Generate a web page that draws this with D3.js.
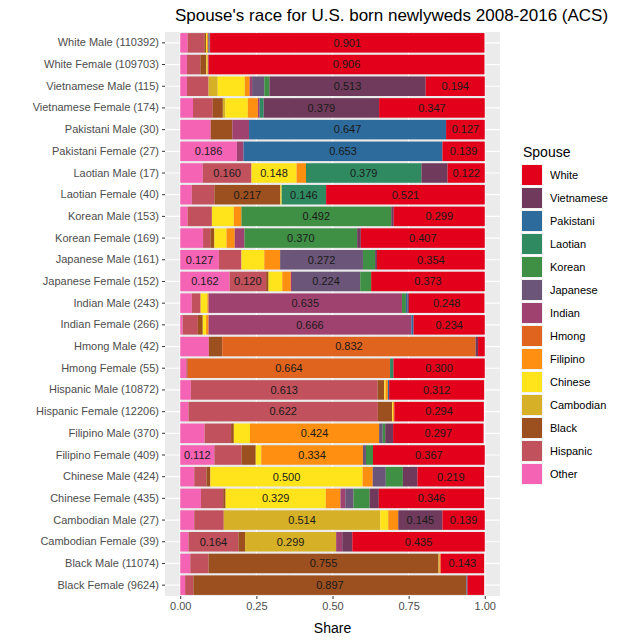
<!DOCTYPE html><html><head><meta charset="utf-8"><script src="https://cdn.jsdelivr.net/npm/d3@7"></script>
<style>body{margin:0;background:#fff}text{font-family:"Liberation Sans",Arial,sans-serif}</style></head><body><svg id="c" width="626" height="640"></svg><script>
const categories=["White Male (110392)","White Female (109703)","Vietnamese Male (115)","Vietnamese Female (174)","Pakistani Male (30)","Pakistani Female (27)","Laotian Male (17)","Laotian Female (40)","Korean Male (153)","Korean Female (169)","Japanese Male (161)","Japanese Female (152)","Indian Male (243)","Indian Female (266)","Hmong Male (42)","Hmong Female (55)","Hispanic Male (10872)","Hispanic Female (12206)","Filipino Male (370)","Filipino Female (409)","Chinese Male (424)","Chinese Female (435)","Cambodian Male (27)","Cambodian Female (39)","Black Male (11074)","Black Female (9624)"];
const spouses=["Other","Hispanic","Black","Cambodian","Chinese","Filipino","Hmong","Indian","Japanese","Korean","Laotian","Pakistani","Vietnamese","White"];
const colors=["#f564b4","#c1515c","#9c4f1f","#d6b026","#ffe41c","#ff8f10","#e0631e","#a04270","#6b5578","#3f8f45","#2f8a62","#2d6b9c","#6f3a5b","#e3001b"];
// rows: values in spouses order
const shares=[
[.024,.055,.006,0,.003,.003,0,.002,.003,.001,0,0,.001,.901],
[.022,.044,.020,0,.003,.002,0,0,.002,0,0,0,0,.906],
[.022,.071,0,.030,.089,.016,0,.008,.040,.017,0,0,.513,.194],
[.042,.065,.033,.008,.074,.033,0,.006,0,0,.013,0,.379,.347],
[.100,0,.071,0,0,0,0,.055,0,0,0,.647,0,.127],
[.186,0,0,0,0,0,0,.022,0,0,0,.653,0,.139],
[.074,.160,0,0,.148,.031,0,0,0,0,.379,0,.086,.122],
[.038,.074,.217,0,.004,0,0,0,0,0,.146,0,0,.521],
[.024,.080,0,0,.072,.025,0,0,0,.492,0,0,.008,.299],
[.075,.024,.013,0,.040,.027,0,.032,0,.370,0,0,.012,.407],
[.127,.074,0,0,.075,.052,0,0,.272,.040,0,0,.006,.354],
[.162,.120,.008,0,.045,.028,0,.004,.224,.036,0,0,0,.373],
[.038,.029,0,0,.022,.004,0,.635,0,.013,0,.005,.005,.248],
[.008,.050,.016,0,.011,.008,0,.666,0,0,0,.007,0,.234],
[.094,0,.044,0,0,0,.832,0,0,0,0,0,.008,.022],
[.020,.005,0,0,0,0,.664,0,0,0,.011,0,0,.300],
[.035,.613,.022,0,.004,.008,0,0,0,0,0,.004,0,.312],
[.027,.622,.047,0,.003,.004,0,0,0,0,0,0,0,.294],
[.080,.087,.009,0,.053,.424,0,0,.012,.008,0,0,.026,.297],
[.112,.089,.047,0,.018,.334,0,0,.010,.023,0,0,0,.367],
[.046,.040,.013,0,.500,.033,0,0,.043,.056,0,0,.048,.219],
[.068,.073,.008,0,.329,.048,0,.016,.027,.053,0,0,.030,.346],
[.046,.097,0,.514,.026,.033,0,0,0,0,0,0,.145,.139],
[.027,.164,.022,.299,0,0,0,.020,0,0,0,0,.033,.435],
[.033,.060,.755,.003,0,.004,0,0,0,0,0,0,0,.143],
[.016,.027,.897,0,0,0,0,0,0,0,0,.003,0,.055]];
const xTicks=[0,0.25,0.5,0.75,1];
const svg=d3.select("#c");
const L=165,R=500,T=32,B=596;
const x=d3.scaleLinear().domain([-0.05,1.05]).range([L,R]);
const y=d3.scaleBand().domain(categories).range([T,B]).paddingInner(0.1).paddingOuter(0.05);
svg.append("rect").attr("x",L).attr("y",T).attr("width",R-L).attr("height",B-T).attr("fill","#ebebeb");
[0.125,0.375,0.625,0.875].forEach(t=>svg.append("line").attr("x1",x(t)).attr("x2",x(t)).attr("y1",T).attr("y2",B).attr("stroke","#f5f5f5").attr("stroke-width",0.6));
xTicks.forEach(t=>svg.append("line").attr("x1",x(t)).attr("x2",x(t)).attr("y1",T).attr("y2",B).attr("stroke","#fff").attr("stroke-width",1.2));
categories.forEach(c=>svg.append("line").attr("x1",L).attr("x2",R).attr("y1",y(c)+y.bandwidth()/2).attr("y2",y(c)+y.bandwidth()/2).attr("stroke","#fff").attr("stroke-width",1.2));
const data=categories.map((c,i)=>{const o={cat:c};spouses.forEach((s,j)=>o[s]=shares[i][j]);return o;});
const stack=d3.stack().keys(spouses)(data);
const g=svg.append("g");
stack.forEach((layer,k)=>{
  layer.forEach(d=>{
    const w=x(d[1])-x(d[0]); if(w<=0)return;
    g.append("rect").attr("x",x(d[0])).attr("y",y(d.data.cat)).attr("width",w).attr("height",y.bandwidth()).attr("fill",colors[k]);
  });
});
stack.forEach((layer,k)=>{
  layer.forEach(d=>{
    const v=d[1]-d[0]; if(v<=0.1)return;
    g.append("text").attr("x",x((d[0]+d[1])/2)).attr("y",y(d.data.cat)+y.bandwidth()/2).attr("dy","0.35em").attr("text-anchor","middle").attr("font-size",11).attr("fill","#1a1a1a").text(v.toFixed(3));
  });
});
const ya=svg.append("g").attr("transform",`translate(${L},0)`).call(d3.axisLeft(y).tickSize(3).tickSizeOuter(0));
ya.select(".domain").remove();ya.selectAll("line").attr("stroke","#333");
ya.selectAll("text").attr("font-size",11).attr("fill","#4d4d4d").attr("font-family","Liberation Sans, Arial, sans-serif");
const xa=svg.append("g").attr("transform",`translate(0,${B})`).call(d3.axisBottom(x).tickValues(xTicks).tickFormat(d3.format(".2f")).tickSize(3).tickSizeOuter(0));
xa.select(".domain").remove();xa.selectAll("line").attr("stroke","#333");
xa.selectAll("text").attr("font-size",11).attr("fill","#4d4d4d").attr("font-family","Liberation Sans, Arial, sans-serif");
svg.append("text").attr("x",(L+R)/2).attr("y",633).attr("text-anchor","middle").attr("font-size",14).text("Share");
svg.append("text").attr("x",(L+R)/2+59).attr("y",21).attr("text-anchor","middle").attr("font-size",17).text("Spouse's race for U.S. born newlyweds 2008-2016 (ACS)");
const lg=svg.append("g").attr("transform","translate(521,142)");
lg.append("text").attr("x",2).attr("y",15).attr("font-size",14).text("Spouse");
spouses.slice().reverse().forEach((s,i)=>{
  const k=spouses.length-1-i;
  lg.append("rect").attr("x",0).attr("y",22+i*23).attr("width",22).attr("height",22).attr("fill","#f2f2f2");
  lg.append("rect").attr("x",1).attr("y",23+i*23).attr("width",20).attr("height",20).attr("fill",colors[k]);
  lg.append("text").attr("x",29).attr("y",33+i*23).attr("dy","0.35em").attr("font-size",11).text(s);
});
</script></body></html>
